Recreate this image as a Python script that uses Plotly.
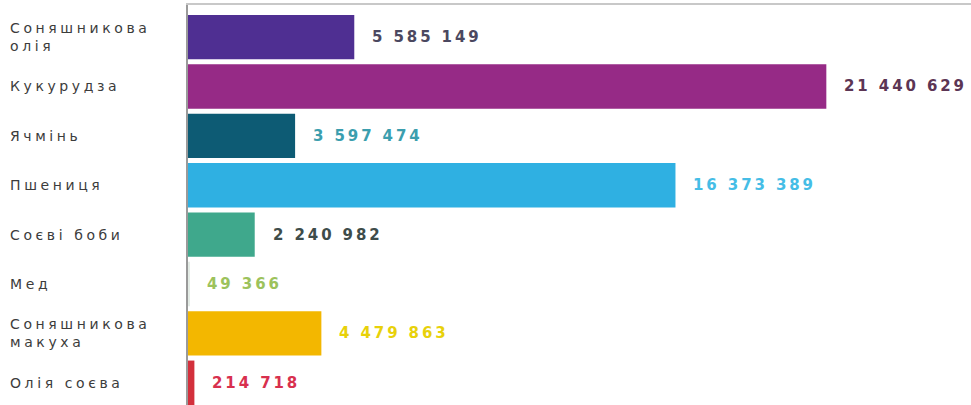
import plotly.graph_objects as go

categories = ["Соняшникова<br>олія", "Кукурудза", "Ячмінь", "Пшениця",
              "Соєві боби", "Мед", "Соняшникова<br>макуха", "Олія соєва"]
values = [5585149, 21440629, 3597474, 16373389, 2240982, 49366, 4479863, 214718]
bar_colors = ["#4f2f92", "#962a86", "#0d5b74", "#2fb0e2", "#3fa88c", "#e4ece6", "#f3b700", "#d3303c"]
label_colors = ["#4b4860", "#5c3554", "#3b9eae", "#45bde6", "#3e4c4a", "#9cc25c", "#e8d10a", "#d8304e"]

ypos = list(range(len(categories)))

fig = go.Figure()
fig.add_trace(go.Bar(
    x=values, y=ypos, orientation="h",
    marker=dict(color=bar_colors, line=dict(width=0)),
    width=0.9, hoverinfo="skip",
))

def fmt(v):
    return f"{v:,}".replace(",", " ")

annotations = []
for yi, v, c in zip(ypos, values, label_colors):
    annotations.append(dict(
        x=v, y=yi, xref="x", yref="y", text=f"<b>{fmt(v)}</b>",
        showarrow=False, xanchor="left", xshift=16, align="left",
        font=dict(family="DejaVu Sans, sans-serif", size=15, color=c),
    ))
for yi, cat in zip(ypos, categories):
    annotations.append(dict(
        x=0, y=yi, xref="paper", yref="y", text=cat,
        showarrow=False, xanchor="left", xshift=-180, align="left",
        font=dict(family="DejaVu Sans, sans-serif", size=14, color="#3c3c3c"),
    ))

fig.update_layout(
    width=971, height=405,
    margin=dict(l=188, r=0, t=5, b=0),
    paper_bgcolor="white", plot_bgcolor="white",
    showlegend=False,
    annotations=annotations,
    xaxis=dict(range=[0, 26.3e6], showgrid=False, zeroline=False,
               showticklabels=False, ticks="", side="top",
               showline=True, linecolor="#c8c8c8", linewidth=1.5),
    yaxis=dict(range=[7.45, -0.65], showgrid=False, zeroline=False,
               showticklabels=False, ticks="",
               showline=True, linecolor="#9a9a9a", linewidth=1.5),
)

post = (
    "document.body.style.margin='0';"
    "var a=document.querySelectorAll('g.annotation text');"
    "a.forEach(function(t,i){t.style.letterSpacing=(i<8?'2.9px':'3.6px');});"
)
fig.write_html("out.html", post_script=post, config={"displayModeBar": False})
